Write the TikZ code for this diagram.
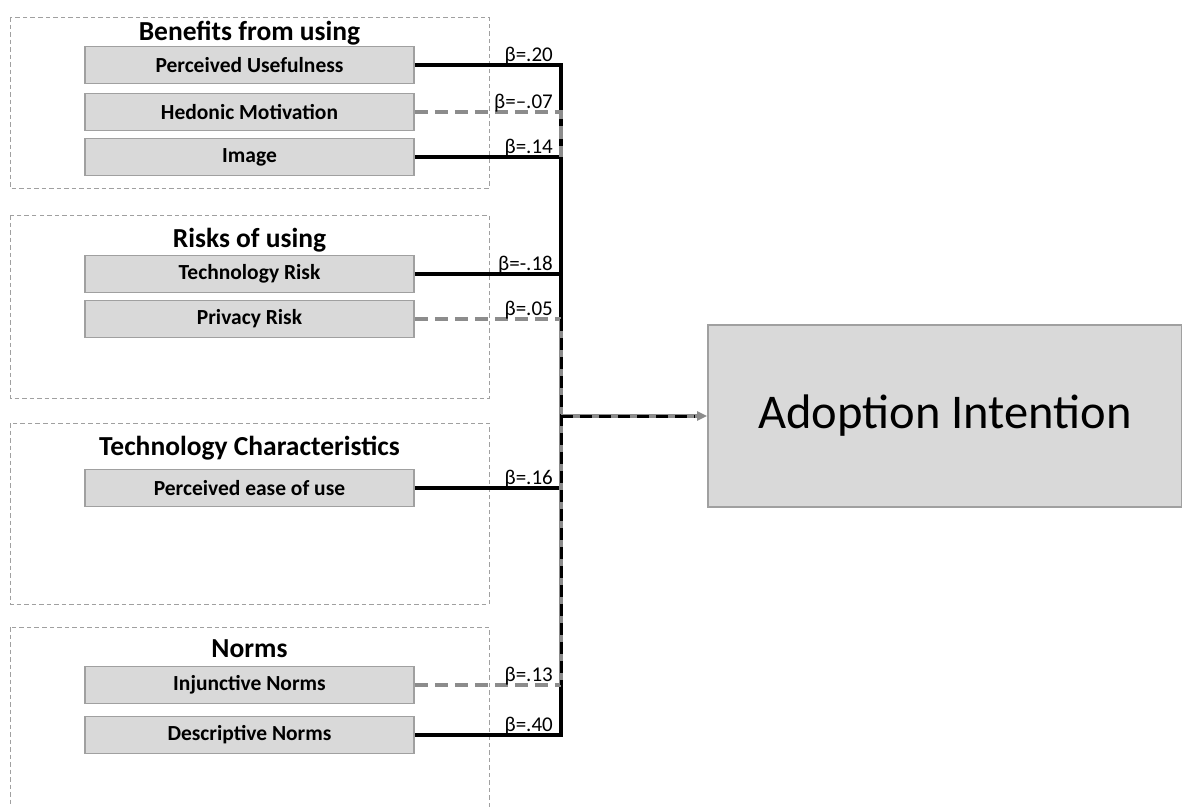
\documentclass[tikz,border=0pt]{standalone}
\usepackage{fontspec}
\setmainfont{Carlito}
\usetikzlibrary{arrows.meta}
\definecolor{boxfill}{HTML}{D9D9D9}
\definecolor{boxline}{HTML}{A0A0A0}
\definecolor{groupline}{HTML}{A0A0A0}
\definecolor{nsline}{HTML}{8C8C8C}

\begin{document}
\begin{tikzpicture}[x=1pt,y=-1pt,
  groupbox/.style={draw=groupline, line width=1pt, dash pattern=on 4.5pt off 3pt},
  factor/.style={draw=boxline, fill=boxfill, line width=1.7pt, minimum width=329pt,
    minimum height=37pt, inner sep=0pt, font=\bfseries\fontsize{21.5}{24}\selectfont},
  grouptitle/.style={font=\bfseries\fontsize{27.5}{30}\selectfont, anchor=base, inner sep=0pt},
  outcome/.style={draw=boxline, fill=boxfill, line width=1.7pt, minimum width=474pt,
    minimum height=182pt, inner sep=0pt, font=\fontsize{48.5}{52}\selectfont},
  sig/.style={draw=black, line width=3.3pt},
  nonsig/.style={draw=nsline, line width=3.3pt, dash pattern=on 13pt off 7pt},
  shared/.style={draw=nsline, line width=3.3pt},
  sharedtop/.style={draw=black, line width=3pt, dash pattern=on 12pt off 7pt},
  beta/.style={font=\fontsize{21}{22}\selectfont, anchor=base east, inner sep=0pt},
]
\useasboundingbox (0,0) rectangle (1182,806);
\clip (0,0) rectangle (1182,806);

% construct groups
\draw[groupbox] (10,17) rectangle (489,188);
\draw[groupbox] (10,215) rectangle (489,398);
\draw[groupbox] (10,423) rectangle (489,604);
\draw[groupbox] (10,627) rectangle (489,830);

\node[grouptitle] (t1) at (249.5,40) {Benefits from using};
\node[grouptitle] (t2) at (249.5,247) {Risks of using};
\node[grouptitle] (t3) at (249.5,455) {Technology Characteristics};
\node[grouptitle] (t4) at (249.5,657) {Norms};

% predictors
\node[factor] (pu) at (249.5,65)  {Perceived Usefulness};
\node[factor] (hm) at (249.5,112) {Hedonic Motivation};
\node[factor] (im) at (249.5,157) {Image};
\node[factor] (tr) at (249.5,274) {Technology Risk};
\node[factor] (pr) at (249.5,319) {Privacy Risk};
\node[factor] (pe) at (249.5,488) {Perceived ease of use};
\node[factor] (in) at (249.5,685) {Injunctive Norms};
\node[factor] (dn) at (249.5,735) {Descriptive Norms};

% outcome
\node[outcome] (ai) at (945,416) {Adoption Intention};

% junctions on the collecting line
\coordinate (jpu) at (561,65);
\coordinate (jhm) at (561,112);
\coordinate (jim) at (561,157);
\coordinate (jtr) at (561,274);
\coordinate (jpr) at (561,319);
\coordinate (jpe) at (561,488);
\coordinate (jin) at (561,685);
\coordinate (jdn) at (561,735);
\coordinate (hub) at (561,416);

% significant paths
\draw[sig] (pu.east) -- (jpu) -- (jdn) -- (dn.east);
\draw[sig] (im.east) -- (jim);
\draw[sig] (tr.east) -- (jtr);
\draw[sig] (pe.east) -- (jpe);

% non-significant paths
\draw[nonsig] (hm.east) -- (jhm) -- (jim);
\draw[nonsig] (pr.east) -- (jpr);
\draw[nonsig] (in.east) -- (jin);

% stretch shared by both kinds of path
\draw[shared] (jpr) -- (jin);
\draw[sharedtop] (jpr) -- (jin);
\draw[shared, -{Triangle[length=10pt,width=9pt]}] (hub) -- (ai.west);
\draw[sharedtop, shorten >=12pt] (hub) -- (ai.west);

% path coefficients
\node[beta] (b1) at (553,61)  {β=.20};
\node[beta] (b2) at (553,108) {β=–.07};
\node[beta] (b3) at (553,153) {β=.14};
\node[beta] (b4) at (553,270) {β=-.18};
\node[beta] (b5) at (553,315) {β=.05};
\node[beta] (b6) at (553,484) {β=.16};
\node[beta] (b7) at (553,681) {β=.13};
\node[beta] (b8) at (553,731) {β=.40};
\end{tikzpicture}
\end{document}
